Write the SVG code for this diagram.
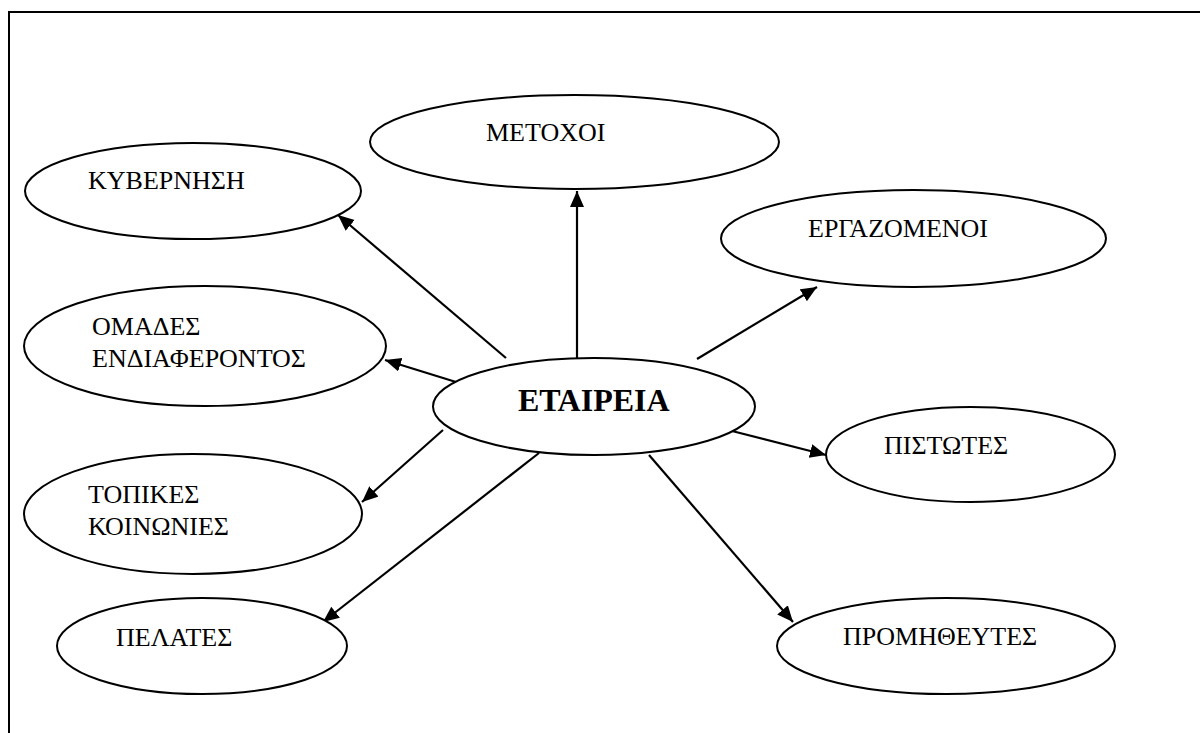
<svg xmlns="http://www.w3.org/2000/svg" width="1200" height="733" viewBox="0 0 1200 733">
<style>
.n{fill:#fff;stroke:#000;stroke-width:2}
.t{font-family:"Liberation Serif","Times New Roman",serif;font-size:26px;fill:#000}
.b{font-family:"Liberation Serif","Times New Roman",serif;font-size:32px;font-weight:bold;fill:#000}
.c{stroke:#000;stroke-width:2.2;fill:none;marker-end:url(#ah)}
</style>
<defs>
<marker id="ah" markerUnits="userSpaceOnUse" markerWidth="20" markerHeight="16" refX="16" refY="7" orient="auto">
<path d="M0,0 L16,7 L0,14 Z" fill="#000"/>
</marker>
</defs>
<rect width="1200" height="733" fill="#fff"/>
<path d="M9,733 V12 H1200" fill="none" stroke="#000" stroke-width="2"/>
<g id="connectors">
<line class="c" x1="506" y1="358" x2="338" y2="215"/>
<line class="c" x1="577" y1="358" x2="577" y2="191"/>
<line class="c" x1="697" y1="359" x2="817" y2="287"/>
<line class="c" x1="456" y1="382" x2="385" y2="360"/>
<line class="c" x1="443" y1="430" x2="362" y2="502"/>
<line class="c" x1="539" y1="453" x2="323" y2="622"/>
<line class="c" x1="732" y1="431" x2="826" y2="455"/>
<line class="c" x1="649" y1="455" x2="793" y2="622"/>
</g>
<g id="kyvernisi"><ellipse class="n" cx="193" cy="191" rx="168" ry="48"/><text class="t" x="88" y="189">ΚΥΒΕΡΝΗΣΗ</text></g>
<g id="metochoi"><ellipse class="n" cx="574.5" cy="142" rx="204.5" ry="47"/><text class="t" x="486" y="141">ΜΕΤΟΧΟΙ</text></g>
<g id="ergazomenoi"><ellipse class="n" cx="913.5" cy="238.5" rx="192.5" ry="48.5"/><text class="t" x="808" y="237">ΕΡΓΑΖΟΜΕΝΟΙ</text></g>
<g id="omades"><ellipse class="n" cx="205" cy="346" rx="181" ry="60"/><text class="t" x="92" y="335">ΟΜΑΔΕΣ</text><text class="t" x="92" y="367">ΕΝΔΙΑΦΕΡΟΝΤΟΣ</text></g>
<g id="etaireia"><ellipse class="n" cx="594" cy="406.5" rx="161" ry="48.5"/><text class="b" x="518" y="411">ΕΤΑΙΡΕΙΑ</text></g>
<g id="pistotes"><ellipse class="n" cx="970.5" cy="454.5" rx="144.5" ry="47.5"/><text class="t" x="884" y="454">ΠΙΣΤΩΤΕΣ</text></g>
<g id="topikes"><ellipse class="n" cx="193" cy="514" rx="169" ry="60"/><text class="t" x="88" y="503">ΤΟΠΙΚΕΣ</text><text class="t" x="88" y="535">ΚΟΙΝΩΝΙΕΣ</text></g>
<g id="pelates"><ellipse class="n" cx="202" cy="646" rx="145" ry="48"/><text class="t" x="116" y="646">ΠΕΛΑΤΕΣ</text></g>
<g id="promitheutes"><ellipse class="n" cx="946" cy="646" rx="169" ry="48"/><text class="t" x="843" y="645">ΠΡΟΜΗΘΕΥΤΕΣ</text></g>
</svg>
